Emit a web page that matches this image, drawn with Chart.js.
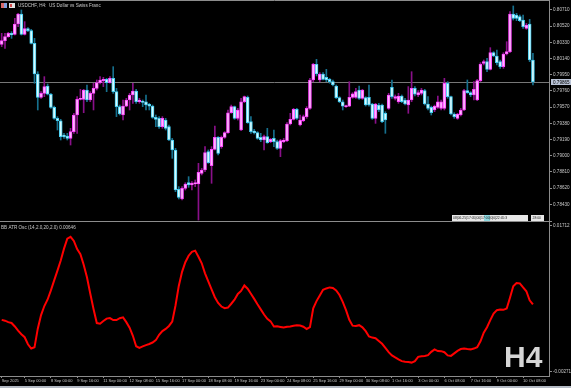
<!DOCTYPE html>
<html>
<head>
<meta charset="utf-8">
<script src="https://cdn.jsdelivr.net/npm/chart.js@4.4.1/dist/chart.umd.min.js"></script>
<style>
  html, body { margin: 0; padding: 0; background: #000; overflow: hidden; }
</style>
</head>
<body>
<canvas id="chart" width="571" height="388"></canvas>
<script>
// USDCHF H4 candles (one entry per bar, left to right)
const opens = [0.80307,0.80350,0.80397,0.80436,0.80424,0.80545,0.80663,0.80424,0.80491,0.80467,
  0.80319,0.79959,0.79685,0.79732,0.79818,0.79721,0.79568,0.79439,0.79411,0.79243,
  0.79232,0.79204,0.79283,0.79478,0.79662,0.79662,0.79771,0.79654,0.79732,0.79791,
  0.79857,0.79881,0.79896,0.79857,0.79908,0.79752,0.79576,0.79478,0.79583,0.79654,
  0.79713,0.79760,0.79634,0.79634,0.79634,0.79603,0.79583,0.79451,0.79439,0.79341,
  0.79419,0.79341,0.79185,0.79068,0.78606,0.78493,0.78618,0.78684,0.78657,0.78669,
  0.78669,0.78794,0.78833,0.79048,0.78884,0.79075,0.79216,0.79107,0.79216,0.79271,
  0.79505,0.79576,0.79439,0.79302,0.79634,0.79685,0.79400,0.79290,0.79271,0.79216,
  0.79185,0.79224,0.79165,0.79204,0.79165,0.79087,0.79165,0.79177,0.79372,0.79427,
  0.79544,0.79361,0.79411,0.79459,0.79556,0.79889,0.80072,0.79889,0.79959,0.79920,
  0.79896,0.79869,0.79818,0.79681,0.79634,0.79576,0.79583,0.79685,0.79685,0.79771,
  0.79674,0.79681,0.79685,0.79607,0.79439,0.79595,0.79595,0.79498,0.79556,0.79803,
  0.79674,0.79634,0.79701,0.79654,0.79595,0.79654,0.79791,0.79713,0.79732,0.79764,
  0.79607,0.79568,0.79537,0.79568,0.79556,0.79556,0.79850,0.79693,0.79490,0.79439,
  0.79478,0.79537,0.79764,0.79740,0.79713,0.79654,0.79881,0.80084,0.80104,0.80014,
  0.80209,0.80170,0.80104,0.80045,0.80194,0.80221,0.80663,0.80651,0.80632,0.80592,
  0.80495,0.80545,0.80123];
const highs = [0.80436,0.80436,0.80448,0.80456,0.80612,0.80671,0.80710,0.80573,0.80503,0.80483,
  0.80377,0.79986,0.79752,0.79928,0.79842,0.79732,0.79583,0.79459,0.79427,0.79263,
  0.79263,0.79322,0.79498,0.79693,0.79779,0.79779,0.79830,0.79752,0.79850,0.79889,
  0.79928,0.79920,0.79908,0.79928,0.80045,0.79791,0.79595,0.79654,0.79674,0.79732,
  0.79850,0.79779,0.79674,0.79654,0.79713,0.79615,0.79595,0.79478,0.79459,0.79459,
  0.79439,0.79361,0.79204,0.79087,0.78638,0.78638,0.78684,0.78755,0.78696,0.78716,
  0.78911,0.78852,0.79107,0.79068,0.79107,0.79349,0.79224,0.79232,0.79283,0.79537,
  0.79595,0.79583,0.79556,0.79674,0.79701,0.79701,0.79459,0.79310,0.79283,0.79263,
  0.79243,0.79322,0.79204,0.79302,0.79185,0.79193,0.79204,0.79388,0.79498,0.79556,
  0.79556,0.79478,0.79478,0.79576,0.79908,0.80084,0.80131,0.79975,0.79975,0.80014,
  0.79908,0.79889,0.79830,0.79693,0.79654,0.79595,0.79869,0.79740,0.79791,0.79818,
  0.79779,0.79693,0.79830,0.79615,0.79615,0.79615,0.79607,0.79517,0.79732,0.79889,
  0.79713,0.79732,0.79713,0.79674,0.79811,0.79986,0.79811,0.79764,0.79791,0.79779,
  0.79693,0.79583,0.79595,0.79701,0.79654,0.79908,0.79869,0.79701,0.79505,0.79498,
  0.79556,0.79779,0.79889,0.79752,0.79869,0.79896,0.80092,0.80123,0.80143,0.80268,
  0.80221,0.80241,0.80123,0.80209,0.80338,0.80690,0.80757,0.80671,0.80651,0.80651,
  0.80553,0.80600,0.80202];
const lows = [0.80280,0.80260,0.80389,0.80377,0.80416,0.80514,0.80416,0.80416,0.80456,0.80311,
  0.79850,0.79537,0.79674,0.79693,0.79713,0.79556,0.79427,0.79302,0.79185,0.79204,
  0.79185,0.79126,0.79263,0.79263,0.79654,0.79505,0.79634,0.79634,0.79537,0.79771,
  0.79842,0.79811,0.79752,0.79850,0.79732,0.79459,0.79478,0.79419,0.79576,0.79537,
  0.79615,0.79615,0.79615,0.79576,0.79537,0.79537,0.79439,0.79341,0.79322,0.79322,
  0.79302,0.79177,0.78970,0.78579,0.78493,0.78481,0.78598,0.78630,0.78598,0.78638,
  0.78246,0.78775,0.78813,0.78911,0.78677,0.79068,0.79009,0.79087,0.79204,0.79263,
  0.79498,0.79427,0.79419,0.79294,0.79623,0.79380,0.79263,0.79255,0.79193,0.79165,
  0.79068,0.79146,0.79153,0.79107,0.79075,0.78989,0.79153,0.79165,0.79361,0.79419,
  0.79427,0.79349,0.79400,0.79439,0.79544,0.79869,0.79936,0.79869,0.79889,0.79869,
  0.79850,0.79818,0.79670,0.79623,0.79537,0.79568,0.79576,0.79674,0.79674,0.79662,
  0.79662,0.79583,0.79583,0.79427,0.79380,0.79517,0.79388,0.79263,0.79544,0.79674,
  0.79654,0.79615,0.79623,0.79595,0.79498,0.79634,0.79701,0.79693,0.79713,0.79595,
  0.79537,0.79478,0.79517,0.79556,0.79537,0.79537,0.79674,0.79478,0.79439,0.79427,
  0.79466,0.79529,0.79732,0.79693,0.79654,0.79646,0.79869,0.80065,0.79986,0.80006,
  0.80162,0.80065,0.80025,0.80025,0.80182,0.80209,0.80592,0.80585,0.80573,0.80495,
  0.80483,0.80104,0.79830];
const closes = [0.80350,0.80397,0.80436,0.80416,0.80545,0.80663,0.80424,0.80491,0.80467,0.80319,
  0.79959,0.79685,0.79732,0.79811,0.79721,0.79568,0.79439,0.79411,0.79224,0.79224,
  0.79204,0.79283,0.79478,0.79662,0.79674,0.79771,0.79654,0.79732,0.79791,0.79857,
  0.79889,0.79896,0.79857,0.79908,0.79752,0.79576,0.79490,0.79583,0.79654,0.79713,
  0.79760,0.79634,0.79654,0.79627,0.79595,0.79583,0.79451,0.79427,0.79341,0.79439,
  0.79322,0.79185,0.79068,0.78598,0.78512,0.78618,0.78669,0.78657,0.78677,0.78684,
  0.78806,0.78833,0.79036,0.78919,0.79075,0.79216,0.79028,0.79216,0.79271,0.79505,
  0.79576,0.79439,0.79537,0.79634,0.79693,0.79388,0.79283,0.79271,0.79204,0.79185,
  0.79224,0.79153,0.79193,0.79165,0.79087,0.79177,0.79185,0.79372,0.79427,0.79544,
  0.79439,0.79419,0.79459,0.79556,0.79889,0.80072,0.79959,0.79959,0.79896,0.79889,
  0.79869,0.79830,0.79681,0.79634,0.79583,0.79583,0.79685,0.79725,0.79752,0.79674,
  0.79771,0.79595,0.79595,0.79439,0.79607,0.79537,0.79400,0.79419,0.79713,0.79693,
  0.79693,0.79701,0.79634,0.79607,0.79654,0.79791,0.79721,0.79740,0.79771,0.79607,
  0.79556,0.79505,0.79583,0.79634,0.79634,0.79850,0.79693,0.79490,0.79459,0.79490,
  0.79537,0.79764,0.79740,0.79713,0.79779,0.79881,0.80072,0.80104,0.80014,0.80209,
  0.80170,0.80092,0.80045,0.80194,0.80221,0.80663,0.80612,0.80612,0.80585,0.80514,
  0.80534,0.80123,0.79865];

// BB ATR Osc (14,2.0,20,2.0), one value per bar
const oscValues = [0.00436,0.00425,0.00405,0.00394,0.00346,0.00289,0.00241,0.00200,0.00104,0.00046,
  0.00063,0.00316,0.00501,0.00624,0.00713,0.00836,0.00973,0.01105,0.01242,0.01404,
  0.01540,0.01565,0.01509,0.01397,0.01328,0.01185,0.01014,0.00795,0.00583,0.00392,
  0.00384,0.00420,0.00453,0.00461,0.00434,0.00434,0.00458,0.00470,0.00405,0.00330,
  0.00220,0.00078,0.00056,0.00075,0.00093,0.00108,0.00128,0.00160,0.00234,0.00284,
  0.00313,0.00353,0.00412,0.00631,0.00897,0.01089,0.01220,0.01308,0.01361,0.01377,
  0.01294,0.01205,0.01068,0.00959,0.00849,0.00744,0.00665,0.00617,0.00595,0.00603,
  0.00655,0.00710,0.00789,0.00829,0.00904,0.00859,0.00791,0.00721,0.00648,0.00579,
  0.00509,0.00449,0.00416,0.00346,0.00349,0.00340,0.00332,0.00343,0.00346,0.00357,
  0.00364,0.00360,0.00343,0.00312,0.00336,0.00594,0.00691,0.00767,0.00844,0.00863,
  0.00877,0.00869,0.00836,0.00774,0.00681,0.00569,0.00436,0.00357,0.00353,0.00364,
  0.00335,0.00282,0.00210,0.00195,0.00186,0.00148,0.00111,0.00056,-0.00002,-0.00047,
  -0.00075,-0.00101,-0.00125,-0.00133,-0.00138,-0.00145,-0.00126,-0.00067,-0.00058,-0.00055,
  -0.00043,0.00001,0.00035,0.00012,0.00011,-0.00004,-0.00047,-0.00053,-0.00019,0.00015,
  0.00039,0.00045,0.00039,0.00035,0.00046,0.00065,0.00145,0.00261,0.00336,0.00432,
  0.00521,0.00568,0.00576,0.00572,0.00590,0.00736,0.00893,0.00936,0.00932,0.00877,
  0.00825,0.00702,0.00646];

// axis ticks
const priceTicks = [0.80710,0.80520,0.80330,0.80140,0.79950,0.79760,0.79570,0.79380,0.79190,0.79000,0.78810,0.78620,0.78430];
const oscTicks = [0.01712,-0.00271];
const timeLabelIdx = [0,7,15,23,31,39,47,55,63,71,79,87,95,103,111,119,127,135,143,151,159];
const timeLabels = ['Sep 2025','5 Sep 00:00','8 Sep 00:00','9 Sep 16:00','11 Sep 00:00','12 Sep 08:00',
  '15 Sep 16:00','17 Sep 00:00','18 Sep 08:00','19 Sep 16:00','23 Sep 00:00','24 Sep 08:00',
  '25 Sep 16:00','29 Sep 00:00','30 Sep 08:00','1 Oct 16:00','3 Oct 00:00','6 Oct 08:00',
  '7 Oct 16:00','9 Oct 00:00','10 Oct 08:00'];

const symbolTitle = 'USDCHF, H4:  US Dollar vs Swiss Franc';
const oscTitle = 'BB ATR Osc (14,2.0,20,2.0)';
const timeframe = 'H4';

const TXT = '#c8c8c8';
const AXIS = '#8c8c8c';
const yFont = { family: 'Liberation Sans', size: 4.6 };
const xFont = { family: 'Liberation Sans', size: 4.0 };

const isBull = opens.map((o, i) => closes[i] >= o);

const wickData = opens.map((o, i) => ({ x: i, y: [lows[i], highs[i]] }));
const bodyData = opens.map((o, i) => ({ x: i, y: [Math.min(o, closes[i]), Math.max(o, closes[i])] }));
const oscData = oscValues.map((v, i) => ({ x: i, y: v }));

// drop the label padding chart.js reserves, the panes run edge to edge
function noPad(s) {
  s.paddingLeft = 0; s.paddingRight = 0; s.paddingTop = 0; s.paddingBottom = 0;
}

const mtPlugin = {
  id: 'mtDecor',
  beforeDraw(chart) {
    const c = chart.ctx;
    c.save();
    c.fillStyle = '#000';
    c.fillRect(0, 0, chart.width, chart.height);
    c.restore();
  },
  beforeDatasetsDraw(chart) {
    const c = chart.ctx, a = chart.chartArea;
    const y = Math.round(chart.scales.y.getPixelForValue(closes[closes.length - 1])) + 0.5;
    c.save();
    c.strokeStyle = '#777';
    c.lineWidth = 1;
    c.beginPath(); c.moveTo(a.left, y); c.lineTo(a.right, y); c.stroke();
    c.restore();
  },
  afterDraw(chart) {
    const c = chart.ctx, a = chart.chartArea;
    const y2 = chart.scales.y2;
    c.save();
    c.strokeStyle = AXIS;
    c.lineWidth = 1;
    // frame top + pane separator
    c.beginPath(); c.moveTo(0, 0.5); c.lineTo(a.right, 0.5); c.stroke();
    const sep = Math.round(y2.top) - 0.5;
    c.beginPath(); c.moveTo(0, sep); c.lineTo(a.right + 3, sep); c.stroke();

    // current price box
    const last = closes[closes.length - 1];
    const py = Math.round(chart.scales.y.getPixelForValue(last));
    c.fillStyle = '#b9c3d6';
    c.fillRect(a.right + 2, py - 3, 20, 6);
    c.fillStyle = '#000';
    c.font = '4.6px "Liberation Sans"';
    c.textBaseline = 'middle';
    c.textAlign = 'left';
    c.fillText(last.toFixed(5), a.right + 4, py + 0.3);

    // title icons + text
    c.fillStyle = '#d86a6a'; c.fillRect(1, 3, 3, 5);
    c.fillStyle = '#7fa0e0'; c.fillRect(4, 3, 3, 5);
    c.fillStyle = '#e0e0e0'; c.fillRect(9, 3, 6, 5);
    c.fillStyle = '#d04848'; c.fillRect(10, 4, 2, 3);
    c.fillStyle = TXT;
    c.font = '4.6px "Liberation Sans"';
    c.fillText(symbolTitle, 18, 5.5);
    c.fillText(oscTitle + ' ' + oscValues[oscValues.length - 1].toFixed(5), 1, y2.top + 6);

    // small info panel at bottom of price pane
    c.fillStyle = '#e8e8e8';
    c.fillRect(452, 215, 76, 6);
    c.fillRect(531, 215, 13, 6);
    c.fillStyle = '#8fd8e0';
    c.fillRect(484, 215, 6, 6);
    c.fillStyle = '#222';
    c.font = '3.4px "Liberation Sans"';
    c.fillText('08|06.25|17:05|00|17:00|0|0|22:45:3', 453, 218.2);
    c.fillText('28:00', 532.5, 218.2);

    // timeframe watermark
    c.fillStyle = '#d6d6d6';
    c.font = 'bold 30px "Liberation Sans"';
    c.textBaseline = 'alphabetic';
    c.fillText(timeframe, 504, 367);

    // bottom status strip
    c.fillStyle = '#b4bac4';
    c.fillRect(0, 386, chart.width, 2);
    c.restore();
  }
};

new Chart(document.getElementById('chart'), {
  type: 'bar',
  data: {
    datasets: [
      {
        type: 'line',
        data: oscData,
        yAxisID: 'y2',
        borderColor: '#ff0000',
        borderWidth: 2,
        pointRadius: 0,
        tension: 0,
        order: 0
      },
      {
        data: bodyData,
        yAxisID: 'y',
        grouped: false,
        barThickness: 3,
        minBarLength: 1,
        borderWidth: 1,
        borderSkipped: false,
        backgroundColor: isBull.map(b => b ? '#ffb8ff' : '#d8fbff'),
        borderColor: isBull.map(b => b ? '#ff44ff' : '#44ccf0'),
        order: 1
      },
      {
        data: wickData,
        yAxisID: 'y',
        grouped: false,
        barThickness: 1,
        borderWidth: 0,
        backgroundColor: isBull.map(b => b ? '#8a108a' : '#16708e'),
        order: 2
      }
    ]
  },
  options: {
    responsive: false,
    animation: false,
    devicePixelRatio: 1,
    layout: { padding: 0 },
    plugins: { legend: { display: false }, tooltip: { enabled: false } },
    scales: {
      x: {
        type: 'linear',
        position: 'bottom',
        offset: false,
        min: -0.52,
        max: 166.9,
        afterFit: (s) => { s.height = 12; noPad(s); },
        afterBuildTicks: (s) => { s.ticks = timeLabelIdx.map(v => ({ value: v })); },
        ticks: {
          autoSkip: false,
          maxRotation: 0,
          align: 'start',
          padding: 0,
          color: TXT,
          font: xFont,
          callback: (v, i) => timeLabels[i]
        },
        grid: { offset: false, drawOnChartArea: false, tickLength: 2, color: AXIS },
        border: { color: AXIS }
      },
      y: {
        type: 'linear',
        position: 'right',
        stack: 'panes',
        stackWeight: 222,
        min: 0.78223,
        max: 0.80827,
        afterFit: (s) => { s.width = 22; noPad(s); },
        afterBuildTicks: (s) => { s.ticks = priceTicks.map(v => ({ value: v })); },
        ticks: { padding: 1, color: TXT, font: yFont, callback: (v) => v.toFixed(5) },
        grid: { drawOnChartArea: false, tickLength: 3, color: AXIS },
        border: { color: AXIS }
      },
      y2: {
        type: 'linear',
        position: 'right',
        stack: 'panes',
        stackWeight: 154,
        min: -0.00327,
        max: 0.01766,
        afterFit: (s) => { s.width = 22; noPad(s); },
        afterBuildTicks: (s) => { s.ticks = oscTicks.map(v => ({ value: v })); },
        ticks: { padding: 1, color: TXT, font: yFont, callback: (v) => v.toFixed(5) },
        grid: { drawOnChartArea: false, tickLength: 3, color: AXIS },
        border: { color: AXIS }
      }
    }
  },
  plugins: [mtPlugin]
});
</script>
</body>
</html>
